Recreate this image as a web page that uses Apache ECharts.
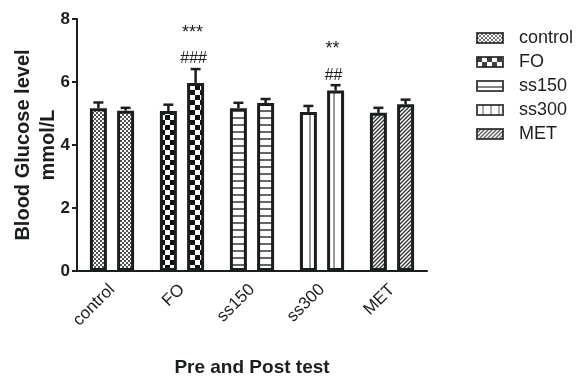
<!DOCTYPE html>
<html>
<head>
<meta charset="utf-8">
<script src="https://cdn.jsdelivr.net/npm/echarts@6/dist/echarts.min.js"></script>
<style>html,body{margin:0;padding:0;background:#fff;}#c{width:578px;height:376px;}</style>
</head>
<body>
<div id="c"></div>
<script>
// ---- data ----
var categories = ['control', 'FO', 'ss150', 'ss300', 'MET'];
var preValues  = [5.17, 5.08, 5.17, 5.05, 5.02];
var preErrors  = [0.18, 0.20, 0.17, 0.19, 0.16];
var postValues = [5.09, 5.97, 5.33, 5.73, 5.29];
var postErrors = [0.09, 0.44, 0.13, 0.17, 0.15];
var postStars  = ['', '***', '', '**', ''];
var postHashes = ['', '###', '', '##', ''];
var yTicks = [0, 2, 4, 6, 8];

// ---- patterns ----
function makePattern(w, h, draw) {
  var cv = document.createElement('canvas');
  cv.width = w; cv.height = h;
  var ctx = cv.getContext('2d');
  ctx.fillStyle = '#ffffff';
  ctx.fillRect(0, 0, w, h);
  draw(ctx, w, h);
  return { image: cv, repeat: 'repeat' };
}
var patterns = {
  control: makePattern(4, 4, function (ctx) {
    ctx.fillStyle = '#555';
    ctx.fillRect(0, 0, 2, 2); ctx.fillRect(2, 2, 2, 2);
  }),
  FO: makePattern(10, 10, function (ctx) {
    ctx.fillStyle = '#111';
    ctx.fillRect(0, 0, 5, 5); ctx.fillRect(5, 5, 5, 5);
  }),
  ss150: makePattern(4, 7, function (ctx) {
    ctx.fillStyle = '#666';
    ctx.fillRect(0, 5, 4, 2);
  }),
  ss300: makePattern(8, 4, function (ctx) {
    ctx.fillStyle = '#999';
    ctx.fillRect(5, 0, 2, 4);
  }),
  MET: makePattern(4, 4, function (ctx) {
    ctx.strokeStyle = '#333';
    ctx.lineWidth = 1.3;
    ctx.beginPath();
    ctx.moveTo(-1, 5); ctx.lineTo(5, -1);
    ctx.moveTo(-1, 1); ctx.lineTo(1, -1);
    ctx.moveTo(3, 5); ctx.lineTo(5, 3);
    ctx.stroke();
  })
};

var FONT = "'Liberation Sans', Arial, sans-serif";
var INK = '#1b1e1e';
var BAR_W = 17;
var BAR_GAP = 0.6;
var OFFSET = (BAR_W + BAR_W * BAR_GAP) / 2;

function barData(values) {
  return values.map(function (v, i) {
    return { value: v, itemStyle: { color: patterns[categories[i]] } };
  });
}

var errData = [];
preValues.forEach(function (v, i) { errData.push([i, v, preErrors[i], 0]); });
postValues.forEach(function (v, i) { errData.push([i, v, postErrors[i], 1]); });

var legendSeries = categories.map(function (name) {
  return {
    name: name, type: 'scatter', data: [],
    itemStyle: { color: patterns[name], borderColor: INK, borderWidth: 2.5 }
  };
});

var chart = echarts.init(document.getElementById('c'), null, { renderer: 'canvas' });
chart.setOption({
  animation: false,
  backgroundColor: '#fff',
  textStyle: { fontFamily: FONT },
  grid: { left: 77, right: 151, top: 19, bottom: 105, containLabel: false, outerBoundsMode: 'none' },
  legend: {
    data: categories,
    orient: 'vertical',
    left: 471, top: 24,
    icon: 'rect',
    itemWidth: 26, itemHeight: 10, itemGap: 6,
    textStyle: { fontFamily: FONT, fontSize: 18, color: INK, padding: [0, 0, 0, 11], lineHeight: 18 }
  },
  xAxis: {
    type: 'category',
    data: categories,
    name: 'Pre and Post test',
    nameLocation: 'middle',
    nameGap: 87,
    nameTextStyle: { fontFamily: FONT, fontSize: 19, fontWeight: 'bold', color: INK },
    axisLine: { lineStyle: { color: INK, width: 2 } },
    axisTick: { alignWithLabel: true, length: 5, lineStyle: { color: INK, width: 2 } },
    axisLabel: { rotate: 45, fontSize: 17, color: INK, margin: 16, fontFamily: FONT },
    splitLine: { show: false }
  },
  yAxis: {
    type: 'value',
    min: yTicks[0], max: yTicks[yTicks.length - 1], interval: 2,
    name: 'Blood Glucose level\nmmol/L',
    nameLocation: 'middle',
    nameRotate: 90,
    nameGap: 16,
    nameMoveOverlap: false,
    nameTextStyle: { fontFamily: FONT, fontSize: 20, fontWeight: 'bold', color: INK, lineHeight: 25 },
    axisLine: { show: true, lineStyle: { color: INK, width: 2 } },
    axisTick: { show: true, length: 5, lineStyle: { color: INK, width: 2 } },
    axisLabel: { fontSize: 17, fontWeight: 'bold', color: INK, margin: 7, fontFamily: FONT },
    splitLine: { show: false }
  },
  series: [
    {
      name: 'pre', type: 'bar', data: barData(preValues),
      barWidth: BAR_W, barGap: (BAR_GAP * 100) + '%',
      itemStyle: { borderColor: INK, borderWidth: 3 }
    },
    {
      name: 'post', type: 'bar', data: barData(postValues),
      barWidth: BAR_W, barGap: (BAR_GAP * 100) + '%',
      itemStyle: { borderColor: INK, borderWidth: 3 }
    },
    {
      name: 'err', type: 'custom', data: errData, z: 5,
      renderItem: function (params, api) {
        var cat = api.value(0), mean = api.value(1), err = api.value(2), s = api.value(3);
        var base = api.coord([cat, mean]);
        var top = api.coord([cat, mean + err]);
        var x = base[0] + (s === 0 ? -OFFSET : OFFSET);
        var children = [
          { type: 'line', shape: { x1: x, y1: base[1], x2: x, y2: top[1] }, style: { stroke: INK, lineWidth: 2.5 } },
          { type: 'line', shape: { x1: x - 5, y1: top[1], x2: x + 5, y2: top[1] }, style: { stroke: INK, lineWidth: 2.5 } }
        ];
        if (s === 1) {
          var h = postHashes[cat], st = postStars[cat];
          if (h) children.push({ type: 'text', x: x - 2, y: top[1] - 10, style: { text: h, fontSize: 16, fontFamily: FONT, fill: INK, align: 'center', verticalAlign: 'middle' } });
          if (st) children.push({ type: 'text', x: x - 3, y: top[1] - 36, style: { text: st, fontSize: 18, fontFamily: FONT, fill: INK, align: 'center', verticalAlign: 'middle' } });
        }
        return { type: 'group', children: children };
      }
    }
  ].concat(legendSeries)
});
</script>
</body>
</html>
